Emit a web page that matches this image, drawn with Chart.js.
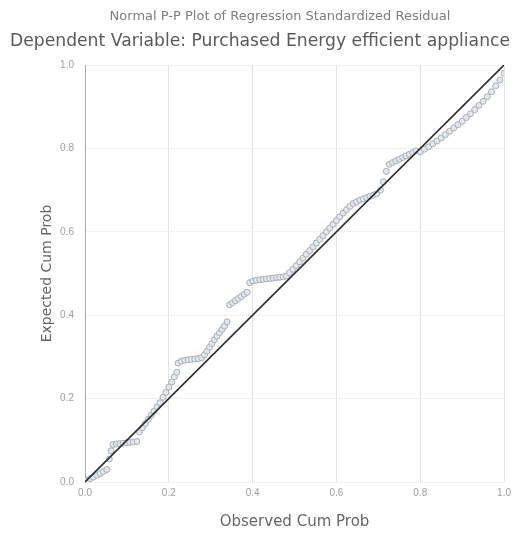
<!DOCTYPE html>
<html>
<head>
  <meta charset="UTF-8">
  <title>Normal P-P Plot</title>
  <script src="https://cdn.jsdelivr.net/npm/chart.js"></script>
  <style>
    html, body { margin: 0; padding: 0; background: #fff; }
    #wrap { width: 516px; height: 541px; }
  </style>
</head>
<body>
  <div id="wrap"><canvas id="ppChart" width="516" height="541"></canvas></div>

  <script>
    // observed cum prob (x) and expected cum prob (y)
    const observed = [
      0.005, 0.012, 0.020, 0.028, 0.036, 0.044, 0.052, 0.058, 0.062,
      0.067, 0.075, 0.083, 0.091, 0.099, 0.107, 0.115, 0.124,
      0.130, 0.137, 0.144, 0.151, 0.158, 0.165, 0.172, 0.179, 0.186, 0.193, 0.200, 0.207, 0.213, 0.219,
      0.222, 0.230, 0.238, 0.246, 0.254, 0.262, 0.270, 0.278,
      0.285, 0.291, 0.297, 0.303, 0.309, 0.315, 0.321, 0.327, 0.333, 0.339,
      0.345, 0.352, 0.359, 0.366, 0.373, 0.380, 0.387,
      0.393, 0.401, 0.409, 0.417, 0.425, 0.433, 0.441, 0.449, 0.457, 0.465, 0.473, 0.481,
      0.488, 0.496, 0.504, 0.512, 0.520, 0.528, 0.536, 0.544, 0.552, 0.560, 0.568, 0.576, 0.584, 0.592, 0.600, 0.608, 0.616, 0.624, 0.632,
      0.640, 0.648, 0.656, 0.664, 0.672, 0.680, 0.688, 0.696,
      0.705, 0.712, 0.719,
      0.726, 0.734, 0.742, 0.750, 0.758, 0.766, 0.774, 0.782, 0.790,
      0.800, 0.810, 0.820, 0.830, 0.840, 0.850, 0.860, 0.870, 0.880, 0.890, 0.900,
      0.910, 0.920, 0.930, 0.940, 0.950, 0.960, 0.970, 0.980, 0.990, 1.000
    ];
    const expected = [
      0.004, 0.008, 0.012, 0.016, 0.020, 0.025, 0.030, 0.055, 0.075,
      0.090, 0.091, 0.092, 0.093, 0.094, 0.095, 0.096, 0.097,
      0.120, 0.130, 0.140, 0.150, 0.160, 0.170, 0.180, 0.190, 0.203, 0.215, 0.228, 0.240, 0.252, 0.263,
      0.285, 0.290, 0.292, 0.293, 0.294, 0.295, 0.296, 0.298,
      0.305, 0.314, 0.323, 0.332, 0.341, 0.350, 0.358, 0.366, 0.374, 0.384,
      0.425, 0.430, 0.435, 0.440, 0.445, 0.450, 0.455,
      0.478, 0.482, 0.484, 0.485, 0.486, 0.487, 0.488, 0.489, 0.490, 0.491, 0.492, 0.494,
      0.502, 0.510, 0.519, 0.528, 0.537, 0.546, 0.555, 0.564, 0.573, 0.582, 0.591, 0.600, 0.609, 0.618, 0.627, 0.636, 0.645, 0.653, 0.661,
      0.668, 0.672, 0.676, 0.679, 0.682, 0.685, 0.688, 0.691,
      0.700, 0.720, 0.745,
      0.762, 0.766, 0.770, 0.774, 0.778, 0.782, 0.786, 0.790, 0.794,
      0.792, 0.798, 0.804, 0.811, 0.818, 0.825, 0.833, 0.841, 0.849, 0.857, 0.865,
      0.874, 0.883, 0.893, 0.903, 0.913, 0.924, 0.936, 0.950, 0.964, 0.980
    ];
    const refLineX = [0, 1];
    const refLineY = [0, 1];
    const tickValues = [0, 0.2, 0.4, 0.6, 0.8, 1.0];

    const titleText = 'Normal P-P Plot of Regression Standardized Residual';
    const subtitleText = 'Dependent Variable: Purchased Energy efficient appliance';
    const xTitle = 'Observed Cum Prob';
    const yTitle = 'Expected Cum Prob';

    // the two heading lines sit a bit off-centre in the picture, so draw them ourselves
    const headings = {
      id: 'headings',
      afterDraw(chart) {
        const c = chart.ctx;
        c.save();
        c.textAlign = 'center';
        c.textBaseline = 'middle';
        c.fillStyle = '#7e7e7e';
        c.font = '13px "DejaVu Sans"';
        c.fillText(titleText, 280, 17);
        c.fillStyle = '#5a5a5a';
        c.font = '17.2px "DejaVu Sans"';
        c.fillText(subtitleText, 260, 42);
        c.restore();
      }
    };

    const ctx = document.getElementById('ppChart').getContext('2d');
    new Chart(ctx, {
      type: 'scatter',
      data: {
        datasets: [
          {
            label: 'Observed',
            data: observed.map((x, i) => ({ x: x, y: expected[i] })),
            pointRadius: 3,
            pointBorderWidth: 1,
            pointBorderColor: '#a7afb9',
            pointBackgroundColor: '#e4e7eb',
            order: 2
          },
          {
            label: 'Reference',
            type: 'line',
            data: refLineX.map((x, i) => ({ x: x, y: refLineY[i] })),
            borderColor: '#2e2e2e',
            borderWidth: 1.6,
            pointRadius: 0,
            fill: false,
            order: 1
          }
        ]
      },
      options: {
        responsive: false,
        animation: false,
        layout: { padding: { left: 0, right: 9, top: 65, bottom: 0 } },
        plugins: {
          legend: { display: false },
          tooltip: { enabled: false },
          title: { display: false }
        },
        scales: {
          x: {
            type: 'linear',
            min: 0,
            max: 1,
            afterBuildTicks: s => { s.ticks = tickValues.map(v => ({ value: v })); },
            afterFit: s => { s.height = 59; },
            ticks: {
              color: '#a0a0a0',
              font: { family: 'Liberation Sans', size: 10 },
              padding: 5,
              maxRotation: 0,
              callback: v => v.toFixed(1)
            },
            grid: { color: '#e4e4e4', drawTicks: false },
            border: { display: false },
            title: {
              display: true,
              text: xTitle,
              color: '#666',
              font: { family: 'DejaVu Sans', size: 15 },
              padding: { top: 0, bottom: 10 }
            }
          },
          y: {
            type: 'linear',
            min: 0,
            max: 1,
            afterBuildTicks: s => { s.ticks = tickValues.map(v => ({ value: v })); },
            afterFit: s => { s.width = 85; },
            ticks: {
              color: '#a0a0a0',
              font: { family: 'Liberation Sans', size: 10 },
              padding: 11,
              callback: v => v.toFixed(1)
            },
            grid: { color: '#e4e4e4', drawTicks: false },
            border: { display: true, color: '#aaa', dash: [1, 1] },
            title: {
              display: true,
              text: yTitle,
              color: '#666',
              font: { family: 'DejaVu Sans', size: 14 },
              padding: { top: 39, bottom: 0 }
            }
          }
        }
      },
      plugins: [headings]
    });
  </script>
</body>
</html>
